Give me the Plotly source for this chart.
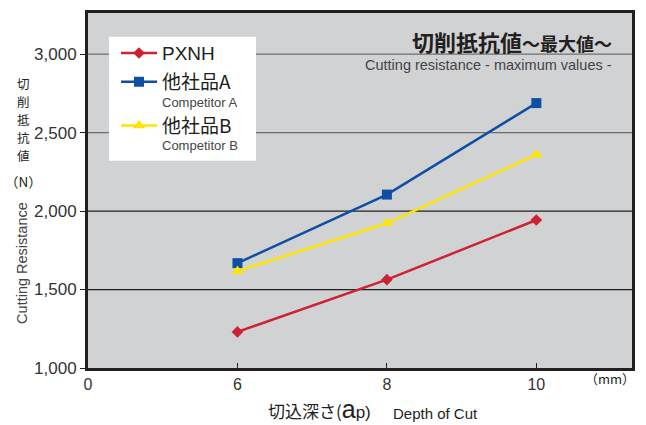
import plotly.graph_objects as go

# ---- data ----
DEPTH_LABELS = ["0", "6", "8", "10"]      # x tick labels (category positions 0..3)
DEPTH_POS = [1, 2, 3]                      # positions of 6, 8, 10 mm
PXNH = [1230, 1563, 1943]
COMP_A = [1668, 2105, 2688]
COMP_B = [1617, 1922, 2360]
Y_TICKS = [1000, 1500, 2000, 2500, 3000]
Y_TICK_TEXT = ["1,000", "1,500", "2,000", "2,500", "3,000"]
GRID_DARK = [1500, 2000]
GRID_GRAY = [2500, 3000]
Y_TITLE_CHARS = ["切", "削", "抵", "抗", "値", "（N）"]
SERIES_NAMES = ["PXNH", "他社品A", "他社品B"]
SERIES_SUBNAMES = ["", "Competitor A", "Competitor B"]

RED = "#cc2233"
BLUE = "#0f4fa3"
YELLOW = "#ffe400"
JP = "Noto Sans CJK JP"
LAT = "Liberation Sans, Arial, sans-serif"
NARROW = "Liberation Sans Narrow, Liberation Sans, sans-serif"

PLOT_L, PLOT_T, PLOT_W, PLOT_H = 88, 10, 544, 358


def px(xp):
    return (xp - PLOT_L) / PLOT_W


def py(yp):
    return (PLOT_T + PLOT_H - yp) / PLOT_H


fig = go.Figure()
fig.add_trace(go.Scatter(
    x=DEPTH_POS, y=PXNH, mode="lines+markers",
    name=SERIES_NAMES[0], legend="legend",
    line=dict(color=RED, width=2.5),
    marker=dict(symbol="diamond", size=9, color=RED)))
fig.add_trace(go.Scatter(
    x=DEPTH_POS, y=COMP_A, mode="lines+markers",
    name=SERIES_NAMES[1], legend="legend2",
    line=dict(color=BLUE, width=2.5),
    marker=dict(symbol="square", size=10, color=BLUE)))
fig.add_trace(go.Scatter(
    x=DEPTH_POS, y=COMP_B, mode="lines+markers",
    name=SERIES_NAMES[2], legend="legend3",
    line=dict(color=YELLOW, width=2.5),
    marker=dict(symbol="triangle-up", size=11, color=YELLOW)))

shapes = []
for v in GRID_DARK:
    shapes.append(dict(type="line", xref="paper", x0=0, x1=1, yref="y", y0=v, y1=v,
                       line=dict(color="#231f20", width=1.3), layer="below"))
for v in GRID_GRAY:
    shapes.append(dict(type="line", xref="paper", x0=0, x1=1, yref="y", y0=v, y1=v,
                       line=dict(color="#6d6e71", width=1.3), layer="below"))
# white legend panel
shapes.append(dict(type="rect", xref="paper", yref="paper",
                   x0=px(109), x1=px(256), y0=py(159), y1=py(34),
                   fillcolor="white", line=dict(width=0), layer="above"))

annotations = [
    dict(text="<b>切削抵抗値</b><b><span style='font-size:18px'>～最大値～</span></b>",
         xref="paper", yref="paper", x=px(614), y=py(38), xanchor="right", yanchor="middle",
         showarrow=False, font=dict(family=JP, size=22, color="#231f20")),
    dict(text="Cutting resistance - maximum values -",
         xref="paper", yref="paper", x=px(614), y=py(62), xanchor="right", yanchor="middle",
         showarrow=False, font=dict(family=LAT, size=14.5, color="#444444")),
    dict(text="Cutting Resistance", textangle=-90,
         xref="paper", yref="paper", x=px(22), y=py(262), xanchor="center", yanchor="middle",
         showarrow=False, font=dict(family=LAT, size=14.5, color="#444444")),
    dict(text="（mm）",
         xref="paper", yref="paper", x=px(610), y=py(379), xanchor="center", yanchor="middle",
         showarrow=False, font=dict(family=JP, size=13, color="#231f20")),
    dict(text="切込深さ(<span style='font-size:25px;font-family:Liberation Sans'>a</span>"
              "<span style='font-family:Liberation Sans'>p)</span>",
         xref="paper", yref="paper", x=px(373), y=py(409), xanchor="right", yanchor="middle",
         showarrow=False, font=dict(family=JP, size=17, color="#231f20")),
    dict(text="Depth of Cut",
         xref="paper", yref="paper", x=px(391), y=py(414), xanchor="left", yanchor="middle",
         showarrow=False, font=dict(family=LAT, size=15, color="#231f20")),
]
# sub-names under legend entries
for sub, yp in zip(SERIES_SUBNAMES[1:], [100.5, 144]):
    annotations.append(dict(text=sub, xref="paper", yref="paper", x=px(161), y=py(yp),
                            xanchor="left", yanchor="middle", showarrow=False, borderpad=0,
                            font=dict(family=LAT, size=13, color="#444444")))
# vertical Japanese axis title
Y_TITLE_PIX = [81.5, 99.6, 117.7, 135.8, 153.9, 179]
Y_TITLE_SIZE = [12.5, 12.5, 12.5, 12.5, 12.5, 13.5]
for ch, yp, fs in zip(Y_TITLE_CHARS, Y_TITLE_PIX, Y_TITLE_SIZE):
    annotations.append(dict(text=ch, xref="paper", yref="paper", x=px(23), y=py(yp),
                            xanchor="center", yanchor="middle", showarrow=False,
                            borderpad=0, font=dict(family=JP, size=fs, color="#231f20")))

LEG = dict(xanchor="left", yanchor="middle", bgcolor="rgba(0,0,0,0)", borderwidth=0,
           font=dict(family=JP, size=19, color="#231f20"), itemwidth=36)

fig.update_layout(
    width=646, height=425,
    margin=dict(l=PLOT_L, r=646 - PLOT_L - PLOT_W, t=PLOT_T, b=425 - PLOT_T - PLOT_H),
    paper_bgcolor="white", plot_bgcolor="#d1d2d4",
    showlegend=True,
    legend=dict(x=px(116), y=py(50.5), **{**LEG, "font": dict(family=LAT, size=19, color="#231f20")}),
    legend2=dict(x=px(116), y=py(79.5), **LEG),
    legend3=dict(x=px(116), y=py(123.5), **LEG),
    shapes=shapes, annotations=annotations,
    xaxis=dict(range=[0, 3.64], tickvals=[0, 1, 2, 3], ticktext=DEPTH_LABELS,
               showgrid=False, zeroline=False,
               showline=True, linecolor="#231f20", linewidth=3, mirror=True,
               ticks="inside", ticklen=5, tickcolor="#231f20",
               tickfont=dict(family=LAT, size=16, color="#333333")),
    yaxis=dict(range=[1000, 3262], tickvals=Y_TICKS, ticktext=Y_TICK_TEXT,
               showgrid=False, zeroline=False,
               showline=True, linecolor="#231f20", linewidth=3, mirror=True,
               ticks="outside", ticklen=5, tickcolor="#231f20",
               tickfont=dict(family=NARROW, size=17, color="#333333")),
)

fig.write_html("out.html")
